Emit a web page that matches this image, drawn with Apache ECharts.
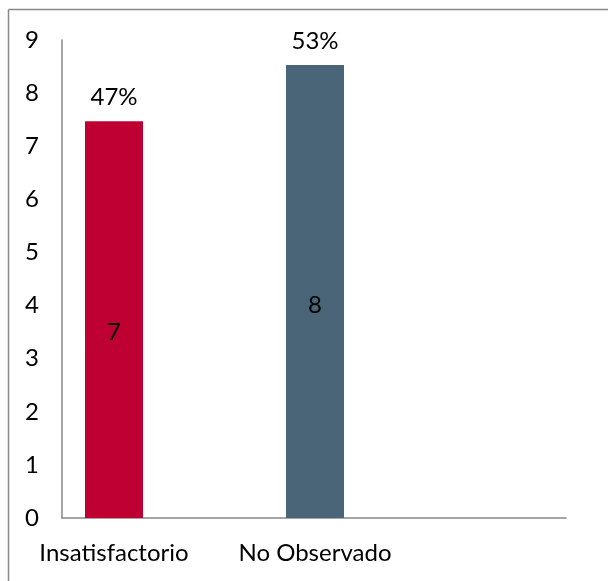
<!DOCTYPE html>
<html>
<head>
<meta charset="utf-8">
<script src="https://cdn.jsdelivr.net/npm/echarts@6/dist/echarts.min.js"></script>
<style>
html,body{margin:0;padding:0;background:#fff;}
#chart{width:608px;height:581px;}
</style>
</head>
<body>
<div id="chart"></div>
<script>
const categories = ['Insatisfactorio', 'No Observado'];
const counts = [7, 8];
const shares = [0.47, 0.53];
const barColors = ['#BD0031', '#4A6577'];
const yTicks = [0, 9, 1];

const FONT = 'Lato';
const FS = 24;
const totals = counts.map((c, i) => c + shares[i]);

const chart = echarts.init(document.getElementById('chart'), null, {renderer: 'canvas'});
chart.setOption({
  animation: false,
  backgroundColor: '#fff',
  textStyle: {fontFamily: FONT},
  graphic: [
    {type: 'line', shape: {x1: 8.5, y1: 9.5, x2: 620, y2: 9.5}, style: {stroke: '#888', lineWidth: 1.5}},
    {type: 'line', shape: {x1: 8.5, y1: 9.5, x2: 8.5, y2: 620}, style: {stroke: '#888', lineWidth: 1.5}}
  ],
  grid: [
    {left: 62, top: 40, width: 504, bottom: 63},
    {left: 13.5, top: 40, width: 402, bottom: 63}
  ],
  xAxis: [
    {gridIndex: 0, type: 'value', min: 0, max: 1,
     axisLine: {show: true, lineStyle: {color: '#868686', width: 1.5}},
     axisTick: {show: false}, axisLabel: {show: false}, splitLine: {show: false}},
    {gridIndex: 1, type: 'category', data: categories,
     axisLine: {show: false}, axisTick: {show: false}, splitLine: {show: false},
     axisLabel: {color: '#000', fontSize: FS, fontFamily: FONT, margin: 23, lineHeight: 24, interval: 0}}
  ],
  yAxis: [
    {gridIndex: 0, type: 'value', min: yTicks[0], max: yTicks[1], interval: yTicks[2],
     axisLine: {show: true, lineStyle: {color: '#868686', width: 1.5}},
     axisTick: {show: false}, splitLine: {show: false},
     axisLabel: {color: '#000', fontSize: FS, fontFamily: FONT, margin: 23, lineHeight: 24}},
    {gridIndex: 1, type: 'value', min: yTicks[0], max: yTicks[1], interval: yTicks[2], show: false}
  ],
  series: [
    {type: 'bar', xAxisIndex: 1, yAxisIndex: 1, barWidth: 58, barGap: '-100%', z: 1,
     data: totals.map((v, i) => ({value: v, itemStyle: {color: barColors[i]}})),
     label: {show: false}},
    {type: 'bar', xAxisIndex: 1, yAxisIndex: 1, stack: 'labels', barWidth: 58, barGap: '-100%', z: 2,
     itemStyle: {color: 'rgba(0,0,0,0)'},
     data: counts,
     label: {show: true, position: 'inside', color: '#000', fontSize: FS, fontFamily: FONT,
       formatter: p => String(p.value)}},
    {type: 'bar', xAxisIndex: 1, yAxisIndex: 1, stack: 'labels', barWidth: 58, barGap: '-100%', z: 2,
     itemStyle: {color: 'rgba(0,0,0,0)'},
     data: shares,
     label: {show: true, position: 'top', distance: 12, color: '#000', fontSize: FS, fontFamily: FONT,
       formatter: p => Math.round(p.value * 100) + '%'}}
  ]
});
</script>
</body>
</html>
